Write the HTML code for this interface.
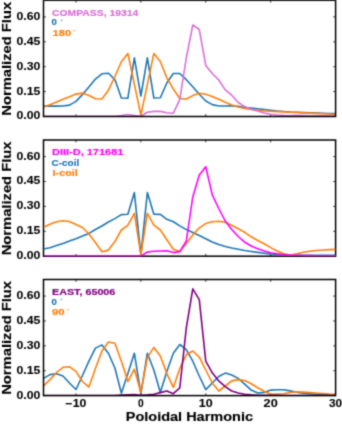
<!DOCTYPE html><html><head><meta charset="utf-8"><title>Poloidal harmonic spectra</title><style>html,body{margin:0;padding:0;background:#fff;overflow:hidden;width:342px;height:426px}svg{display:block}text{font-family:"Liberation Sans",sans-serif;font-weight:bold}</style></head><body>
<svg width="342" height="426" viewBox="0 0 342 426">
<rect width="342" height="426" fill="#fff"/>
<defs>
<clipPath id="c0"><rect x="43.5" y="0.3" width="292.1" height="116.2"/></clipPath>
<clipPath id="c1"><rect x="43.5" y="140.0" width="292.1" height="116.19999999999999"/></clipPath>
<clipPath id="c2"><rect x="43.5" y="279.5" width="292.1" height="116.10000000000002"/></clipPath>
<filter id="bl" x="0" y="0" width="342" height="426" filterUnits="userSpaceOnUse" color-interpolation-filters="sRGB"><feConvolveMatrix order="3" kernelMatrix="0.0277 0.1110 0.0277 0.1110 0.4452 0.1110 0.0277 0.1110 0.0277" edgeMode="none"/></filter>
</defs>
<g filter="url(#bl)">
<path d="M43.5,116.50h2.3M335.6,116.50h-2.3M43.5,91.60h2.3M335.6,91.60h-2.3M43.5,66.70h2.3M335.6,66.70h-2.3M43.5,41.80h2.3M335.6,41.80h-2.3M43.5,16.90h2.3M335.6,16.90h-2.3M75.95,116.5v-2.3M75.95,0.3v2.3M140.87,116.5v-2.3M140.87,0.3v2.3M205.77,116.5v-2.3M205.77,0.3v2.3M270.69,116.5v-2.3M270.69,0.3v2.3" stroke="#000" stroke-width="0.8" fill="none"/>
<polyline points="43.50,106.10 49.99,106.10 56.48,106.10 62.97,106.00 69.46,105.10 75.95,101.40 82.45,94.60 88.94,86.90 95.43,79.10 101.92,73.80 108.41,73.30 114.90,79.60 121.39,98.00 127.88,98.20 134.37,57.90 140.87,96.00 147.36,57.90 153.85,98.00 160.34,97.80 166.83,83.00 173.32,73.50 179.81,73.50 186.30,79.70 192.79,86.70 199.28,94.30 205.77,101.00 212.27,104.60 218.76,106.00 225.25,106.00 231.74,105.90 238.23,106.40 244.72,107.50 251.21,108.00 257.70,108.70 264.19,109.50 270.69,110.30 277.18,111.00 283.67,111.50 290.16,112.00 296.65,112.30 303.14,112.60 309.63,112.90 316.12,113.10 322.61,113.30 329.10,113.50 335.59,113.60" fill="none" stroke="#1f77b4" stroke-width="1.6" stroke-linejoin="round" clip-path="url(#c0)"/>
<polyline points="43.50,107.00 49.99,104.70 56.48,102.00 62.97,99.30 69.46,96.70 75.95,94.10 82.45,93.10 88.94,95.50 95.43,98.70 101.92,99.00 108.41,90.20 114.90,76.50 121.39,61.80 127.88,53.50 134.37,84.30 140.87,115.10 147.36,84.30 153.85,53.50 160.34,61.50 166.83,77.90 173.32,89.00 179.81,98.50 186.30,99.00 192.79,95.60 199.28,93.30 205.77,94.30 212.27,96.40 218.76,99.30 225.25,102.30 231.74,105.00 238.23,107.00 244.72,108.50 251.21,109.50 257.70,110.30 264.19,111.00 270.69,111.30 277.18,111.60 283.67,111.90 290.16,112.20 296.65,112.50 303.14,112.80 309.63,113.10 316.12,113.40 322.61,113.70 329.10,114.00 335.59,114.20" fill="none" stroke="#ff7f0e" stroke-width="1.6" stroke-linejoin="round" clip-path="url(#c0)"/>
<polyline points="43.50,116.20 49.99,116.20 56.48,116.20 62.97,116.20 69.46,116.20 75.95,116.20 82.45,116.20 88.94,116.20 95.43,116.20 101.92,116.20 108.41,116.20 114.90,116.20 121.39,115.50 127.88,114.50 134.37,115.50 140.87,116.30 147.36,112.30 153.85,111.40 160.34,111.40 166.83,112.80 173.32,113.30 179.81,99.40 186.30,58.00 192.79,25.00 199.28,29.50 205.77,65.50 212.27,73.50 218.76,80.00 225.25,89.90 231.74,95.20 238.23,102.50 244.72,106.60 251.21,109.30 257.70,111.00 264.19,113.00 270.69,114.30 277.18,115.00 283.67,115.40 290.16,115.60 296.65,115.30 303.14,115.50 309.63,115.70 316.12,115.80 322.61,115.90 329.10,116.00 335.59,116.00" fill="none" stroke="#da70d6" stroke-width="1.6" stroke-linejoin="round" clip-path="url(#c0)"/>
<rect x="43.5" y="0.3" width="292.1" height="116.2" fill="none" stroke="#000" stroke-width="1.5"/>
<text x="40.30" y="119.40" font-size="10.2" fill="#000" stroke="#000" stroke-width="0.1" stroke-linejoin="round" text-anchor="end" textLength="23.80" lengthAdjust="spacingAndGlyphs">0.00</text>
<text x="40.30" y="94.50" font-size="10.2" fill="#000" stroke="#000" stroke-width="0.1" stroke-linejoin="round" text-anchor="end" textLength="23.80" lengthAdjust="spacingAndGlyphs">0.15</text>
<text x="40.30" y="69.60" font-size="10.2" fill="#000" stroke="#000" stroke-width="0.1" stroke-linejoin="round" text-anchor="end" textLength="23.80" lengthAdjust="spacingAndGlyphs">0.30</text>
<text x="40.30" y="44.70" font-size="10.2" fill="#000" stroke="#000" stroke-width="0.1" stroke-linejoin="round" text-anchor="end" textLength="23.80" lengthAdjust="spacingAndGlyphs">0.45</text>
<text x="40.30" y="19.80" font-size="10.2" fill="#000" stroke="#000" stroke-width="0.1" stroke-linejoin="round" text-anchor="end" textLength="23.80" lengthAdjust="spacingAndGlyphs">0.60</text>
<text transform="translate(11.00,58.75) rotate(-90)" font-size="13.3" fill="#000" stroke="#000" stroke-width="0.15" stroke-linejoin="round" text-anchor="middle" textLength="113.80" lengthAdjust="spacingAndGlyphs">Normalized Flux</text>
<path d="M43.5,256.20h2.3M335.6,256.20h-2.3M43.5,231.30h2.3M335.6,231.30h-2.3M43.5,206.40h2.3M335.6,206.40h-2.3M43.5,181.50h2.3M335.6,181.50h-2.3M43.5,156.60h2.3M335.6,156.60h-2.3M75.95,256.2v-2.3M75.95,140.0v2.3M140.87,256.2v-2.3M140.87,140.0v2.3M205.77,256.2v-2.3M205.77,140.0v2.3M270.69,256.2v-2.3M270.69,140.0v2.3" stroke="#000" stroke-width="0.8" fill="none"/>
<rect x="43.5" y="140.0" width="292.1" height="116.19999999999999" fill="none" stroke="#000" stroke-width="1.5"/>
<polyline points="43.50,249.00 49.99,247.70 56.48,245.60 62.97,243.60 69.46,241.00 75.95,238.80 82.45,236.00 88.94,233.40 95.43,229.50 101.92,226.00 108.41,222.00 114.90,218.60 121.39,214.60 127.88,214.20 134.37,192.60 140.87,255.00 147.36,192.60 153.85,214.20 160.34,214.40 166.83,219.30 173.32,221.80 179.81,225.90 186.30,229.60 192.79,232.60 199.28,235.50 205.77,238.80 212.27,242.00 218.76,244.50 225.25,246.50 231.74,248.00 238.23,249.30 244.72,250.50 251.21,251.50 257.70,252.40 264.19,253.20 270.69,254.00 277.18,254.50 283.67,254.80 290.16,255.00 296.65,255.10 303.14,255.20 309.63,255.20 316.12,255.20 322.61,255.20 329.10,255.20 335.59,255.20" fill="none" stroke="#1f77b4" stroke-width="1.6" stroke-linejoin="round" clip-path="url(#c1)"/>
<polyline points="43.50,227.20 49.99,224.20 56.48,221.80 62.97,220.70 69.46,221.50 75.95,224.50 82.45,227.50 88.94,234.00 95.43,242.50 101.92,251.70 108.41,250.10 114.90,241.50 121.39,230.00 127.88,225.10 134.37,213.30 140.87,255.00 147.36,213.30 153.85,225.10 160.34,230.00 166.83,239.80 173.32,249.20 179.81,251.60 186.30,243.60 192.79,234.90 199.28,227.80 205.77,223.60 212.27,221.70 218.76,221.30 225.25,222.30 231.74,225.20 238.23,228.80 244.72,232.30 251.21,236.80 257.70,240.50 264.19,243.80 270.69,247.60 277.18,251.00 283.67,253.80 290.16,255.00 296.65,253.80 303.14,252.30 309.63,251.30 316.12,250.50 322.61,250.00 329.10,249.60 335.59,249.40" fill="none" stroke="#ff7f0e" stroke-width="1.6" stroke-linejoin="round" clip-path="url(#c1)"/>
<polyline points="43.50,256.10 49.99,256.10 56.48,256.10 62.97,256.10 69.46,256.10 75.95,256.10 82.45,256.10 88.94,256.10 95.43,256.10 101.92,256.10 108.41,256.10 114.90,256.10 121.39,256.10 127.88,256.10 134.37,256.10 140.87,256.10 147.36,252.00 153.85,251.20 160.34,251.00 166.83,250.80 173.32,252.60 179.81,251.60 186.30,241.00 192.79,197.00 199.28,175.00 205.77,166.70 212.27,194.90 218.76,208.50 225.25,221.00 231.74,229.50 238.23,236.50 244.72,242.20 251.21,246.00 257.70,248.70 264.19,251.00 270.69,252.80 277.18,253.80 283.67,254.50 290.16,255.00 296.65,255.30 303.14,255.50 309.63,255.60 316.12,255.70 322.61,255.80 329.10,255.80 335.59,255.80" fill="none" stroke="#ff00ff" stroke-width="1.6" stroke-linejoin="round" clip-path="url(#c1)"/>
<text x="40.30" y="259.10" font-size="10.2" fill="#000" stroke="#000" stroke-width="0.1" stroke-linejoin="round" text-anchor="end" textLength="23.80" lengthAdjust="spacingAndGlyphs">0.00</text>
<text x="40.30" y="234.20" font-size="10.2" fill="#000" stroke="#000" stroke-width="0.1" stroke-linejoin="round" text-anchor="end" textLength="23.80" lengthAdjust="spacingAndGlyphs">0.15</text>
<text x="40.30" y="209.30" font-size="10.2" fill="#000" stroke="#000" stroke-width="0.1" stroke-linejoin="round" text-anchor="end" textLength="23.80" lengthAdjust="spacingAndGlyphs">0.30</text>
<text x="40.30" y="184.40" font-size="10.2" fill="#000" stroke="#000" stroke-width="0.1" stroke-linejoin="round" text-anchor="end" textLength="23.80" lengthAdjust="spacingAndGlyphs">0.45</text>
<text x="40.30" y="159.50" font-size="10.2" fill="#000" stroke="#000" stroke-width="0.1" stroke-linejoin="round" text-anchor="end" textLength="23.80" lengthAdjust="spacingAndGlyphs">0.60</text>
<text transform="translate(11.00,198.45) rotate(-90)" font-size="13.3" fill="#000" stroke="#000" stroke-width="0.15" stroke-linejoin="round" text-anchor="middle" textLength="113.80" lengthAdjust="spacingAndGlyphs">Normalized Flux</text>
<path d="M43.5,395.60h2.3M335.6,395.60h-2.3M43.5,370.72h2.3M335.6,370.72h-2.3M43.5,345.84h2.3M335.6,345.84h-2.3M43.5,320.96h2.3M335.6,320.96h-2.3M43.5,296.09h2.3M335.6,296.09h-2.3M75.95,395.6v-2.3M75.95,279.5v2.3M140.87,395.6v-2.3M140.87,279.5v2.3M205.77,395.6v-2.3M205.77,279.5v2.3M270.69,395.6v-2.3M270.69,279.5v2.3" stroke="#000" stroke-width="0.8" fill="none"/>
<polyline points="43.50,378.40 49.99,374.60 56.48,373.70 62.97,376.00 69.46,383.00 75.95,389.50 82.45,375.50 88.94,361.20 95.43,348.10 101.92,344.90 108.41,353.20 114.90,368.00 121.39,393.20 127.88,373.60 134.37,353.20 140.87,394.00 147.36,353.20 153.85,370.00 160.34,392.50 166.83,371.40 173.32,353.20 179.81,344.50 186.30,349.60 192.79,361.20 199.28,376.00 205.77,389.60 212.27,383.00 218.76,376.50 225.25,373.10 231.74,375.00 238.23,378.40 244.72,384.20 251.21,390.10 257.70,393.00 264.19,392.40 270.69,390.10 277.18,389.80 283.67,389.80 290.16,390.90 296.65,392.30 303.14,393.10 309.63,393.70 316.12,394.20 322.61,394.50 329.10,394.70 335.59,394.80" fill="none" stroke="#1f77b4" stroke-width="1.6" stroke-linejoin="round" clip-path="url(#c2)"/>
<polyline points="43.50,386.00 49.99,379.60 56.48,372.50 62.97,367.30 69.46,366.70 75.95,371.40 82.45,381.50 88.94,387.10 95.43,368.50 101.92,351.00 108.41,342.00 114.90,343.20 121.39,361.20 127.88,381.60 134.37,369.20 140.87,392.50 147.36,357.60 153.85,347.40 160.34,356.00 166.83,373.60 173.32,387.40 179.81,368.50 186.30,354.70 192.79,351.00 199.28,357.20 205.77,370.00 212.27,383.00 218.76,391.00 225.25,386.00 231.74,380.90 238.23,379.60 244.72,380.50 251.21,383.70 257.70,387.70 264.19,391.30 270.69,394.20 277.18,394.00 283.67,393.70 290.16,392.50 296.65,391.70 303.14,392.10 309.63,392.50 316.12,393.00 322.61,393.50 329.10,394.00 335.59,394.20" fill="none" stroke="#ff7f0e" stroke-width="1.6" stroke-linejoin="round" clip-path="url(#c2)"/>
<polyline points="43.50,395.50 49.99,395.50 56.48,395.50 62.97,395.50 69.46,395.50 75.95,395.50 82.45,395.50 88.94,395.50 95.43,395.50 101.92,395.50 108.41,395.50 114.90,395.50 121.39,395.00 127.88,394.80 134.37,394.60 140.87,395.20 147.36,394.80 153.85,394.20 160.34,392.60 166.83,390.90 173.32,393.70 179.81,387.90 186.30,328.00 192.79,288.80 199.28,299.70 205.77,361.20 212.27,372.80 218.76,380.90 225.25,386.70 231.74,391.00 238.23,393.00 244.72,394.20 251.21,394.80 257.70,395.20 264.19,395.30 270.69,395.40 277.18,395.40 283.67,395.50 290.16,395.50 296.65,395.50 303.14,395.50 309.63,395.50 316.12,395.50 322.61,395.50 329.10,395.50 335.59,395.50" fill="none" stroke="#800080" stroke-width="1.6" stroke-linejoin="round" clip-path="url(#c2)"/>
<rect x="43.5" y="279.5" width="292.1" height="116.10000000000002" fill="none" stroke="#000" stroke-width="1.5"/>
<text x="40.30" y="398.50" font-size="10.2" fill="#000" stroke="#000" stroke-width="0.1" stroke-linejoin="round" text-anchor="end" textLength="23.80" lengthAdjust="spacingAndGlyphs">0.00</text>
<text x="40.30" y="373.62" font-size="10.2" fill="#000" stroke="#000" stroke-width="0.1" stroke-linejoin="round" text-anchor="end" textLength="23.80" lengthAdjust="spacingAndGlyphs">0.15</text>
<text x="40.30" y="348.74" font-size="10.2" fill="#000" stroke="#000" stroke-width="0.1" stroke-linejoin="round" text-anchor="end" textLength="23.80" lengthAdjust="spacingAndGlyphs">0.30</text>
<text x="40.30" y="323.86" font-size="10.2" fill="#000" stroke="#000" stroke-width="0.1" stroke-linejoin="round" text-anchor="end" textLength="23.80" lengthAdjust="spacingAndGlyphs">0.45</text>
<text x="40.30" y="298.99" font-size="10.2" fill="#000" stroke="#000" stroke-width="0.1" stroke-linejoin="round" text-anchor="end" textLength="23.80" lengthAdjust="spacingAndGlyphs">0.60</text>
<text transform="translate(11.00,337.90) rotate(-90)" font-size="13.3" fill="#000" stroke="#000" stroke-width="0.15" stroke-linejoin="round" text-anchor="middle" textLength="113.80" lengthAdjust="spacingAndGlyphs">Normalized Flux</text>
<text x="52.00" y="15.50" font-size="9.6" fill="#da70d6" stroke="#da70d6" stroke-width="0.18" stroke-linejoin="round" text-anchor="start" textLength="86.30" lengthAdjust="spacingAndGlyphs">COMPASS, 19314</text>
<text x="51.40" y="25.10" font-size="9.6" fill="#1f77b4" stroke="#1f77b4" stroke-width="0.18" stroke-linejoin="round" text-anchor="start">0</text>
<text x="52.60" y="36.10" font-size="9.6" fill="#ff7f0e" stroke="#ff7f0e" stroke-width="0.18" stroke-linejoin="round" text-anchor="start" textLength="18.60" lengthAdjust="spacingAndGlyphs">180</text>
<text x="52.00" y="155.20" font-size="9.6" fill="#ff00ff" stroke="#ff00ff" stroke-width="0.18" stroke-linejoin="round" text-anchor="start" textLength="71.40" lengthAdjust="spacingAndGlyphs">DIII-D, 171681</text>
<text x="51.60" y="165.50" font-size="9.6" fill="#1f77b4" stroke="#1f77b4" stroke-width="0.18" stroke-linejoin="round" text-anchor="start" textLength="27.60" lengthAdjust="spacingAndGlyphs">C-coil</text>
<text x="52.60" y="175.80" font-size="9.6" fill="#ff7f0e" stroke="#ff7f0e" stroke-width="0.18" stroke-linejoin="round" text-anchor="start" textLength="25.10" lengthAdjust="spacingAndGlyphs">I-coil</text>
<text x="52.00" y="294.70" font-size="9.6" fill="#800080" stroke="#800080" stroke-width="0.18" stroke-linejoin="round" text-anchor="start" textLength="63.30" lengthAdjust="spacingAndGlyphs">EAST, 65006</text>
<text x="51.40" y="305.00" font-size="9.6" fill="#1f77b4" stroke="#1f77b4" stroke-width="0.18" stroke-linejoin="round" text-anchor="start">0</text>
<text x="52.00" y="315.30" font-size="9.6" fill="#ff7f0e" stroke="#ff7f0e" stroke-width="0.18" stroke-linejoin="round" text-anchor="start" textLength="12.65" lengthAdjust="spacingAndGlyphs">90</text>
<circle cx="61.7" cy="20.3" r="0.6" fill="none" stroke="#1f77b4" stroke-width="0.5"/>
<circle cx="74.2" cy="30.8" r="0.6" fill="none" stroke="#ff7f0e" stroke-width="0.5"/>
<circle cx="61.4" cy="299.4" r="0.6" fill="none" stroke="#1f77b4" stroke-width="0.5"/>
<circle cx="67.9" cy="309.6" r="0.6" fill="none" stroke="#ff7f0e" stroke-width="0.5"/>
<text x="75.95" y="406.70" font-size="10.2" fill="#000" stroke="#000" stroke-width="0.1" stroke-linejoin="round" text-anchor="middle" textLength="20.80" lengthAdjust="spacingAndGlyphs">−10</text>
<text x="140.87" y="406.70" font-size="10.2" fill="#000" stroke="#000" stroke-width="0.1" stroke-linejoin="round" text-anchor="middle">0</text>
<text x="205.77" y="406.70" font-size="10.2" fill="#000" stroke="#000" stroke-width="0.1" stroke-linejoin="round" text-anchor="middle" textLength="13.80" lengthAdjust="spacingAndGlyphs">10</text>
<text x="270.69" y="406.70" font-size="10.2" fill="#000" stroke="#000" stroke-width="0.1" stroke-linejoin="round" text-anchor="middle" textLength="14.10" lengthAdjust="spacingAndGlyphs">20</text>
<text x="335.59" y="406.70" font-size="10.2" fill="#000" stroke="#000" stroke-width="0.1" stroke-linejoin="round" text-anchor="middle" textLength="13.20" lengthAdjust="spacingAndGlyphs">30</text>
<text x="189.40" y="421.30" font-size="13.3" fill="#000" stroke="#000" stroke-width="0.15" stroke-linejoin="round" text-anchor="middle" textLength="127.30" lengthAdjust="spacingAndGlyphs">Poloidal Harmonic</text>
</g></svg></body></html>
